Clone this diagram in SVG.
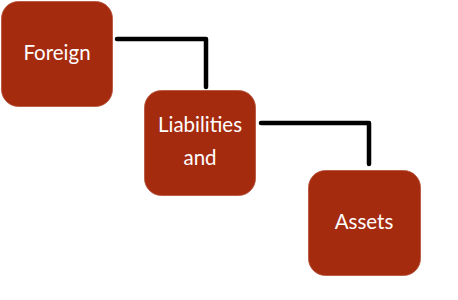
<svg xmlns="http://www.w3.org/2000/svg" width="458" height="300" viewBox="0 0 458 300">
<style>
.box{fill:#A52B0F;stroke:#B5503A;stroke-width:0.8}
.lbl{font-family:Lato,"Open Sans","Liberation Sans",sans-serif;font-size:20.5px;fill:#FFFFFF;text-anchor:middle}
.conn{fill:none;stroke:#000000;stroke-width:4.5;stroke-linejoin:round;stroke-linecap:round}
</style>
<rect width="458" height="300" fill="#FFFFFF"/>
<g id="connectors">
<path class="conn" d="M117 39 H206 V87"/>
<path class="conn" d="M261 123 H369 V164"/>
</g>
<g id="foreign">
<rect class="box" x="1.5" y="1.5" width="111" height="105" rx="17"/>
<text class="lbl" x="57" y="60">Foreign</text>
</g>
<g id="liabilities">
<rect class="box" x="144.5" y="90.5" width="111" height="105" rx="17"/>
<text class="lbl" x="200" y="132">Liabilities</text>
<text class="lbl" x="200" y="165">and</text>
</g>
<g id="assets">
<rect class="box" x="308.5" y="170.5" width="112" height="105" rx="17"/>
<text class="lbl" x="364" y="229">Assets</text>
</g>
</svg>
